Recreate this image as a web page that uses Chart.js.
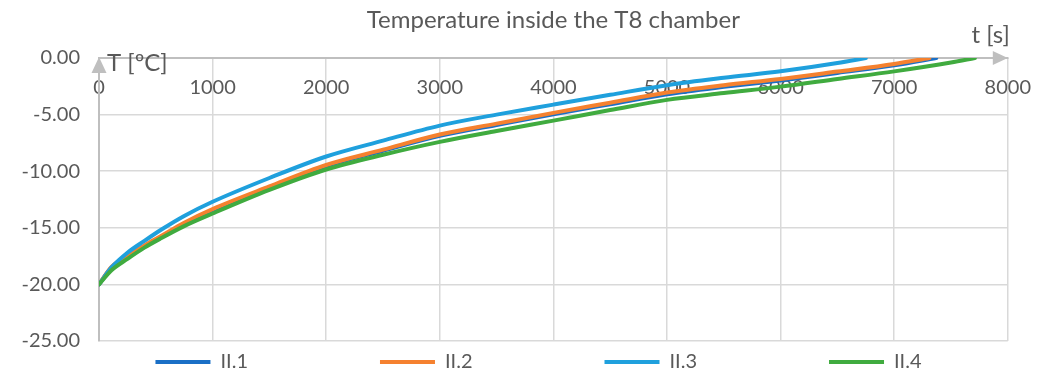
<!DOCTYPE html>
<html>
<head>
<meta charset="utf-8">
<title>Temperature inside the T8 chamber</title>
<script src="https://cdn.jsdelivr.net/npm/chart.js@4.4.0/dist/chart.umd.min.js"></script>
<style>
  html, body { margin: 0; padding: 0; background: #fff; }
  #wrap { width: 1049px; height: 374px; }
</style>
</head>
<body>
<div id="wrap"><canvas id="T8Chamber"></canvas></div>
<script>
// Run II.1
const TIME_II1 = [0, 110, 250, 400, 550, 750, 1000, 1500, 2000, 2500, 3000, 3500, 4000, 4500, 5000, 5500, 6000, 6500, 7000, 7370];
const TEMP_II1 = [-20, -18.55, -17.6, -16.65, -15.8, -14.65, -13.45, -11.45, -9.55, -8.2, -6.88, -5.92, -4.97, -4.08, -3.2, -2.55, -1.98, -1.32, -0.65, 0];

// Run II.2
const TIME_II2 = [0, 110, 250, 400, 550, 750, 1000, 1500, 2000, 2500, 3000, 3500, 4000, 4500, 5000, 5500, 6000, 6500, 7000, 7310];
const TEMP_II2 = [-20, -18.45, -17.5, -16.55, -15.7, -14.55, -13.35, -11.35, -9.45, -8.1, -6.76, -5.8, -4.85, -3.95, -3.05, -2.4, -1.85, -1.2, -0.53, 0];

// Run II.3
const TIME_II3 = [0, 110, 250, 400, 550, 750, 1000, 1500, 2000, 2500, 3000, 3500, 4000, 4500, 5000, 5500, 6000, 6500, 6750];
const TEMP_II3 = [-20, -18.5, -17.2, -16.15, -15.15, -13.95, -12.7, -10.6, -8.7, -7.3, -5.97, -5.0, -4.12, -3.25, -2.4, -1.75, -1.18, -0.45, 0];

// Run II.4
const TIME_II4 = [0, 110, 250, 400, 550, 750, 1000, 1500, 2000, 2500, 3000, 3500, 4000, 4500, 5000, 5500, 6000, 6500, 7000, 7500, 7710];
const TEMP_II4 = [-20, -18.75, -17.75, -16.75, -15.9, -14.85, -13.74, -11.65, -9.85, -8.55, -7.41, -6.45, -5.53, -4.6, -3.7, -3.1, -2.53, -1.85, -1.18, -0.4, 0];

const SERIES_NAMES = ["II.1", "II.2", "II.3", "II.4"];
const SERIES_COLORS = ["#1a6fc6", "#f5812f", "#1fa0dd", "#40ab3f"];

const CHART_TITLE = "Temperature inside the T8 chamber";
const X_TITLE = "t [s]";
const Y_TITLE = "T [ºC]";

const TEXT_COLOR = "#595959";
const AXIS_COLOR = "#bfbfbf";
const GRID_COLOR = "#d9d9d9";
const FONT = "Lato, 'Open Sans', sans-serif";

const LEGEND_FONT = 20;
const LEGEND_GAP = 132;

Chart.defaults.font.family = FONT;
Chart.defaults.color = TEXT_COLOR;

function toPoints(times, temps) {
  return times.map((t, i) => ({ x: t, y: temps[i] }));
}

// arrow heads and the axis names next to them
const axisArrows = {
  id: "axisArrows",
  afterDraw(chart) {
    const ctx = chart.ctx;
    const x = chart.scales.x;
    const y = chart.scales.y;
    const xLeft = x.getPixelForValue(x.min);
    const xRight = x.getPixelForValue(x.max);
    const yZero = y.getPixelForValue(0);
    ctx.save();
    ctx.fillStyle = AXIS_COLOR;
    ctx.beginPath();
    ctx.moveTo(xRight, yZero);
    ctx.lineTo(xRight - 15, yZero - 7);
    ctx.lineTo(xRight - 15, yZero + 7);
    ctx.closePath();
    ctx.fill();
    ctx.beginPath();
    ctx.moveTo(xLeft, yZero - 1);
    ctx.lineTo(xLeft - 7.5, yZero + 15);
    ctx.lineTo(xLeft + 7.5, yZero + 15);
    ctx.closePath();
    ctx.fill();
    ctx.fillStyle = TEXT_COLOR;
    ctx.font = "24px " + FONT;
    ctx.textBaseline = "middle";
    ctx.textAlign = "left";
    ctx.fillText(Y_TITLE, xLeft + 8, yZero + 5);
    ctx.textAlign = "right";
    ctx.fillText(X_TITLE, xRight + 2, yZero - 23);
    ctx.restore();
  },
};

// legend items are spread wide apart, pull the row back up under the plot
const legendSpread = {
  id: "legendSpread",
  afterLayout(chart) {
    const lg = chart.legend;
    lg.top = chart.chartArea.bottom + 21 - LEGEND_FONT / 2 - LEGEND_GAP;
    lg.left += 14;
    lg.right += 14;
  },
};

const CHART_T8 = document.getElementById("T8Chamber");

if (CHART_T8 != null) {
  let chart_t8 = new Chart(CHART_T8, {
    type: "scatter",
    data: {
      datasets: [
        { data: toPoints(TIME_II1, TEMP_II1), order: 4 },
        { data: toPoints(TIME_II2, TEMP_II2), order: 3 },
        { data: toPoints(TIME_II3, TEMP_II3), order: 2 },
        { data: toPoints(TIME_II4, TEMP_II4), order: 1 },
      ].map((ds, i) => ({
        ...ds,
        label: SERIES_NAMES[i],
        showLine: true,
        borderColor: SERIES_COLORS[i],
        backgroundColor: SERIES_COLORS[i],
        borderWidth: 4,
        borderCapStyle: "round",
        pointRadius: 0,
        pointStyle: "line",
        cubicInterpolationMode: "monotone",
      })),
    },
    options: {
      responsive: true,
      maintainAspectRatio: false,
      animation: false,
      layout: {
        padding: 0,
      },
      plugins: {
        tooltip: { enabled: false },
        title: {
          display: true,
          fullSize: false,
          text: CHART_TITLE,
          color: TEXT_COLOR,
          font: { size: 24, weight: "normal" },
          padding: { top: 6, bottom: 23.2 },
        },
        legend: {
          position: "bottom",
          maxHeight: 33,
          labels: {
            usePointStyle: true,
            pointStyleWidth: 55,
            padding: LEGEND_GAP,
            color: TEXT_COLOR,
            font: { size: LEGEND_FONT },
            sort: (a, b) => a.datasetIndex - b.datasetIndex,
          },
        },
      },
      scales: {
        x: {
          type: "linear",
          position: { y: 0 },
          min: 0,
          max: 8000,
          ticks: {
            stepSize: 1000,
            padding: 18,
            color: TEXT_COLOR,
            font: { size: 20 },
            callback: (v) => String(v),
          },
          grid: { color: GRID_COLOR, lineWidth: 1.5, drawTicks: false },
          border: { color: AXIS_COLOR, width: 2 },
        },
        y: {
          type: "linear",
          position: "left",
          min: -25,
          max: 0,
          afterFit: (scale) => {
            scale.width = 99;
          },
          ticks: {
            stepSize: 5,
            padding: 19,
            color: TEXT_COLOR,
            font: { size: 20 },
            callback: (v) => v.toFixed(2),
          },
          grid: { color: GRID_COLOR, lineWidth: 1.5, drawTicks: false },
          border: { color: AXIS_COLOR, width: 2 },
        },
        // empty axis on the right, only keeps the margin
        margin: {
          type: "linear",
          position: "right",
          afterFit: (scale) => {
            scale.width = 39;
          },
          ticks: { display: false },
          grid: { display: false },
          border: { display: false },
        },
      },
    },
    plugins: [axisArrows, legendSpread],
  });
}
</script>
</body>
</html>
